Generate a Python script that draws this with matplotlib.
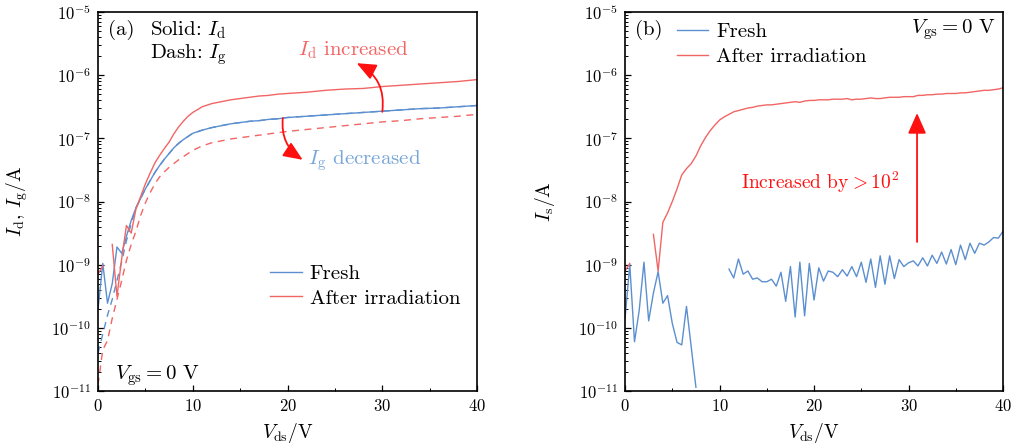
import numpy as np
import matplotlib
matplotlib.use("Agg")
import matplotlib.pyplot as plt
from matplotlib.ticker import LogLocator, MultipleLocator, NullFormatter

plt.rcParams["font.family"] = "serif"
plt.rcParams["font.serif"] = ["cmr10"]
plt.rcParams["mathtext.fontset"] = "cm"
plt.rcParams["axes.formatter.use_mathtext"] = True
plt.rcParams["font.size"] = 12

BLUE = "#5b8fd0"
RED = "#f26565"
ARROW_RED = "#ff1010"
TEXT_BLUE = "#79a6d9"
NOTE_SIZE = 15

# ---- (a) drain / gate current, log10(A) ----
vds_a = [0, 0.5, 1, 1.5, 2, 2.5, 3, 3.5, 4, 4.5, 5, 5.5, 6, 6.5, 7, 7.5, 8, 8.5, 9, 9.5,
         10, 11, 12, 13, 14, 15, 16, 17, 18, 19, 20, 22, 24, 26, 28, 30, 32, 34, 36, 38, 40]

log_id_fresh = [-9.70, -8.98, -9.61, -9.30, -8.72, -8.82, -8.55, -8.30, -8.10, -7.95,
                -7.80, -7.67, -7.54, -7.43, -7.33, -7.24, -7.15, -7.08, -7.02, -6.97,
                -6.92, -6.87, -6.83, -6.80, -6.77, -6.75, -6.73, -6.72, -6.70, -6.69,
                -6.67, -6.65, -6.63, -6.61, -6.59, -6.57, -6.55, -6.53, -6.52, -6.50, -6.48]

log_ig_fresh = [-10.40, -10.10, -9.80, -9.55, -9.25, -8.95, -8.62, -8.35, -8.10, -7.95,
                -7.80, -7.67, -7.54, -7.43, -7.33, -7.24, -7.15, -7.08, -7.02, -6.97,
                -6.92, -6.87, -6.83, -6.80, -6.77, -6.75, -6.73, -6.72, -6.70, -6.69,
                -6.67, -6.65, -6.63, -6.61, -6.59, -6.57, -6.55, -6.53, -6.52, -6.50, -6.48]

log_id_irr = [-9.15, -9.02, np.nan, -8.68, -9.50, -8.90, -8.38, -8.50, -8.12, -7.92,
              -7.72, -7.55, -7.39, -7.27, -7.16, -7.06, -6.93, -6.82, -6.73, -6.65,
              -6.59, -6.50, -6.45, -6.42, -6.39, -6.37, -6.35, -6.33, -6.32, -6.30,
              -6.29, -6.27, -6.24, -6.22, -6.21, -6.18, -6.16, -6.14, -6.12, -6.10, -6.07]

log_ig_irr = [-10.90, -10.35, -10.20, -9.85, -9.55, -9.25, -8.93, -8.68, -8.47, -8.22,
              -8.02, -7.86, -7.72, -7.61, -7.53, -7.46, -7.40, -7.34, -7.29, -7.24,
              -7.19, -7.12, -7.07, -7.04, -7.01, -6.99, -6.97, -6.95, -6.93, -6.91,
              -6.89, -6.86, -6.83, -6.80, -6.77, -6.74, -6.72, -6.69, -6.67, -6.65, -6.62]

# ---- (b) source current, log10(A), 0.5 V sweep step ----
vds_b = np.arange(0, 40.5, 0.5)

log_is_fresh = [-9.85, -9.00, -10.22, -9.72, -8.96, -9.89, -9.45, -9.11, -9.61, -9.49,
                -9.93, -10.23, -10.27, -9.66, -10.30, -10.94,
                np.nan, np.nan, np.nan, np.nan, np.nan, np.nan,
                -9.07, -9.21, -8.91, -9.15, -9.10, -9.23, -9.21, -9.27, -9.27, -9.23,
                -9.34, -9.12, -9.58, -9.03, -9.83, -8.96, -9.81, -8.98, -9.56, -9.05,
                -9.26, -9.10, -9.12, -9.19, -9.08, -9.18, -9.03, -9.19, -8.96, -9.28,
                -8.91, -9.36, -8.86, -9.31, -8.86, -9.22, -8.92, -9.03, -8.97, -8.94,
                -9.02, -8.89, -9.02, -8.85, -8.98, -8.80, -8.99, -8.76, -9.00, -8.69,
                -8.92, -8.66, -8.82, -8.66, -8.69, -8.64, -8.57, -8.58, -8.47]

log_is_irr = [-9.10, -8.98, np.nan, np.nan, np.nan, np.nan, -8.52, -9.10, -8.33, -8.18,
              -8.00, -7.80, -7.58, -7.48, -7.40, -7.28, -7.12, -6.99, -6.88, -6.79,
              -6.71, -6.66, -6.62, -6.58, -6.56, -6.54, -6.52, -6.51, -6.49, -6.48,
              -6.47, -6.47, -6.46, -6.45, -6.44, -6.43, -6.42, -6.43, -6.41, -6.40,
              -6.40, -6.39, -6.39, -6.39, -6.38, -6.38, -6.38, -6.37, -6.39, -6.38,
              -6.38, -6.37, -6.36, -6.37, -6.37, -6.36, -6.35, -6.35, -6.35, -6.34,
              -6.34, -6.34, -6.32, -6.32, -6.31, -6.31, -6.30, -6.30, -6.29, -6.29,
              -6.29, -6.28, -6.28, -6.27, -6.26, -6.25, -6.24, -6.24, -6.23, -6.22, -6.20]


def amps(log_vals):
    return 10.0 ** np.asarray(log_vals, dtype=float)


def style_axis(ax, ylabel):
    ax.set_yscale("log")
    ax.set_xlim(0, 40)
    ax.set_ylim(1e-11, 1e-5)
    ax.xaxis.set_major_locator(MultipleLocator(10))
    ax.xaxis.set_minor_locator(MultipleLocator(5))
    ax.yaxis.set_major_locator(LogLocator(base=10, numticks=10))
    ax.yaxis.set_minor_locator(LogLocator(base=10, subs=np.arange(2, 10), numticks=20))
    ax.yaxis.set_minor_formatter(NullFormatter())
    ax.tick_params(which="both", direction="in", top=False, right=False)
    ax.tick_params(which="major", length=4, width=0.9, pad=5)
    ax.tick_params(which="minor", length=2.5, width=0.7)
    for s in ax.spines.values():
        s.set_linewidth(1.2)
    ax.set_xlabel(r"$V_\mathrm{ds}$/V", fontsize=14, labelpad=5)
    ax.set_ylabel(ylabel, fontsize=14)
    ax.yaxis.set_label_coords(-0.18, 0.5)


def legend(ax, anchor):
    ax.legend(loc="center left", bbox_to_anchor=anchor, frameon=False,
              handlelength=1.5, handletextpad=0.4, labelspacing=0.3,
              fontsize=NOTE_SIZE)


fig = plt.figure(figsize=(10.18, 4.48), dpi=100)
ax1 = fig.add_axes([0.0963, 0.1272, 0.3723, 0.846])
ax2 = fig.add_axes([0.6140, 0.1272, 0.3713, 0.846])

# panel (a)
ax1.plot(vds_a, amps(log_ig_fresh), color=BLUE, lw=1.0, ls=(0, (5, 4)))
ax1.plot(vds_a, amps(log_ig_irr), color=RED, lw=1.0, ls=(0, (5, 4)))
ax1.plot(vds_a, amps(log_id_fresh), color=BLUE, lw=1.0, label="Fresh")
ax1.plot(vds_a, amps(log_id_irr), color=RED, lw=1.0, label="After irradiation")
style_axis(ax1, r"$I_\mathrm{d}$, $I_\mathrm{g}$/A")

ax1.text(0.026, 0.953, "(a)", transform=ax1.transAxes, va="center", ha="left",
         fontsize=NOTE_SIZE)
ax1.text(0.137, 0.953, r"Solid: $I_\mathrm{d}$", transform=ax1.transAxes, va="center",
         fontsize=NOTE_SIZE)
ax1.text(0.137, 0.887, r"Dash: $I_\mathrm{g}$", transform=ax1.transAxes, va="center",
         fontsize=NOTE_SIZE)
ax1.text(0.528, 0.900, r"$I_\mathrm{d}$ increased", transform=ax1.transAxes,
         va="center", color=RED, fontsize=NOTE_SIZE)
ax1.text(0.554, 0.607, r"$I_\mathrm{g}$ decreased", transform=ax1.transAxes,
         va="center", color=TEXT_BLUE, fontsize=NOTE_SIZE)
ax1.text(0.045, 0.040, r"$V_\mathrm{gs}=0$ V", transform=ax1.transAxes, va="center",
         fontsize=NOTE_SIZE)

arrow_kw = dict(arrowstyle="-|>,head_length=0.9,head_width=0.38", color=ARROW_RED,
                lw=1.3, mutation_scale=13, shrinkA=0, shrinkB=0)
ax1.annotate("", xy=(27.3, 10 ** -5.81), xytext=(30.0, 10 ** -6.58),
             arrowprops=dict(connectionstyle="arc3,rad=0.35", **arrow_kw))
ax1.annotate("", xy=(21.6, 10 ** -7.34), xytext=(19.5, 10 ** -6.68),
             arrowprops=dict(connectionstyle="arc3,rad=0.3", **arrow_kw))

legend(ax1, (0.405, 0.277))

# panel (b)
ax2.plot(vds_b, amps(log_is_fresh), color=BLUE, lw=1.0, label="Fresh")
ax2.plot(vds_b, amps(log_is_irr), color=RED, lw=1.0, label="After irradiation")
style_axis(ax2, r"$I_\mathrm{s}$/A")

ax2.text(0.026, 0.953, "(b)", transform=ax2.transAxes, va="center", ha="left",
         fontsize=NOTE_SIZE)
ax2.text(0.979, 0.953, r"$V_\mathrm{gs}=0$ V", transform=ax2.transAxes,
         va="center", ha="right", fontsize=NOTE_SIZE)
ax2.text(0.307, 0.551, r"Increased by $\!\!{>}10^2$", transform=ax2.transAxes,
         va="center", color=ARROW_RED, fontsize=14)
ax2.annotate("", xy=(30.9, 10 ** -6.60), xytext=(30.9, 10 ** -8.64),
             arrowprops=dict(arrowstyle="-|>,head_length=0.9,head_width=0.4",
                             color=ARROW_RED, lw=1.3, mutation_scale=14,
                             shrinkA=0, shrinkB=0))

legend(ax2, (0.087, 0.915))

fig.savefig("out.png", dpi=100)
